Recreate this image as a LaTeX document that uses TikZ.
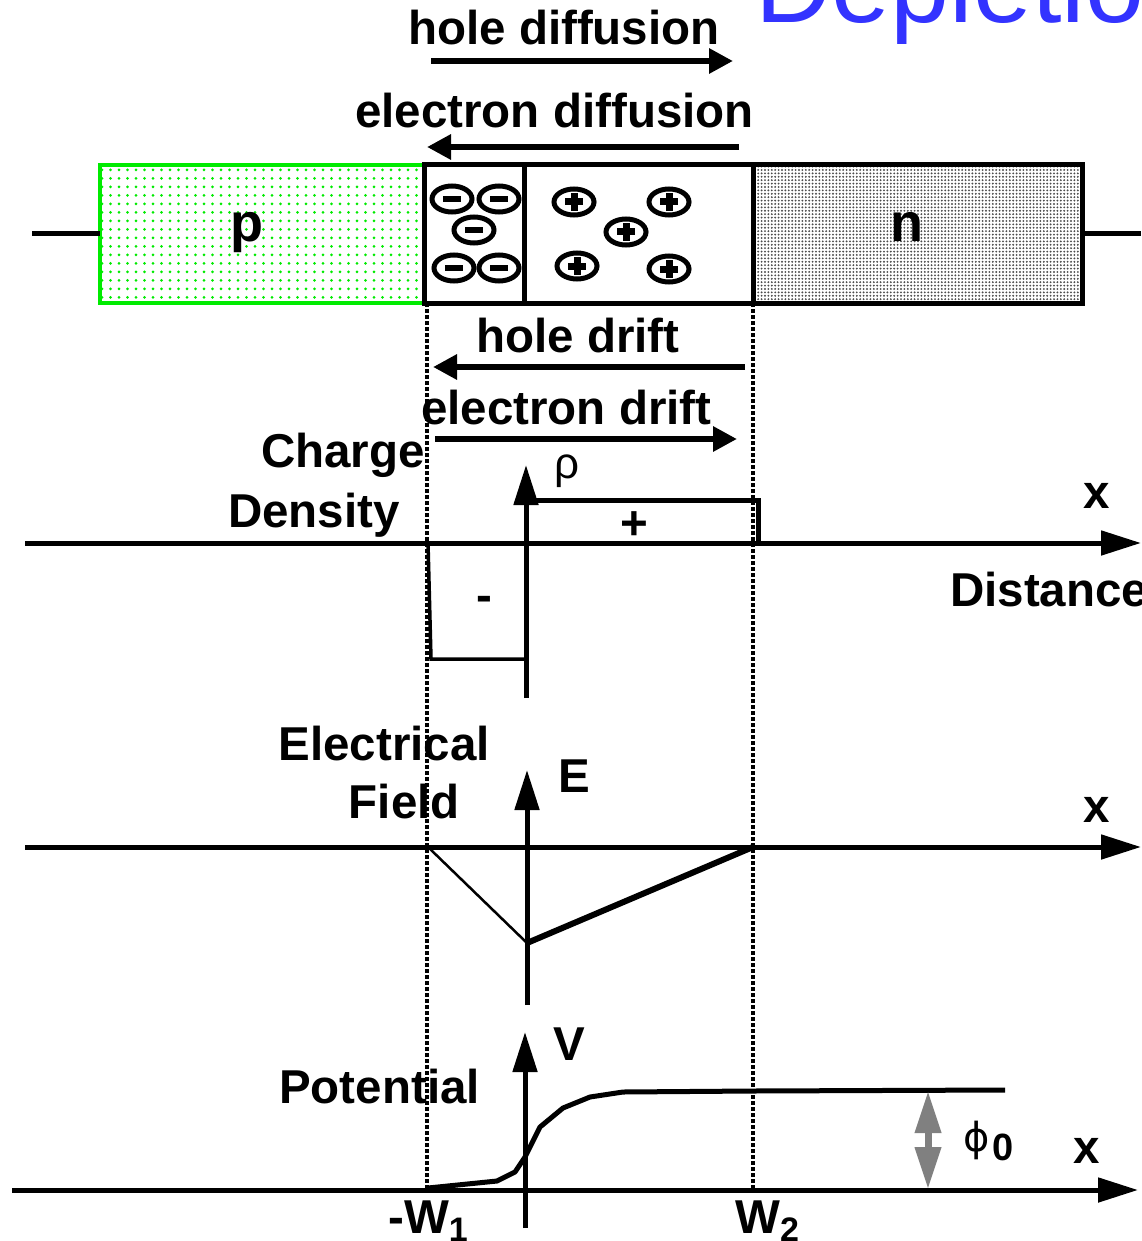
\documentclass[tikz,border=0pt]{standalone}
\usepackage{fontspec}
\setmainfont{Liberation Sans}
\newfontfamily\symfont{DejaVu Sans}
\usetikzlibrary{arrows.meta,patterns.meta,shapes.geometric}
\definecolor{titleblue}{RGB}{51,51,255}
\definecolor{pgreen}{RGB}{0,235,0}
\begin{document}
\begin{tikzpicture}[x=1pt,y=-1pt,
  lbl/.style={font=\fontsize{47.5}{50}\selectfont\bfseries, inner sep=0pt, anchor=base west},
  big/.style={font=\fontsize{54}{56}\selectfont\bfseries, inner sep=0pt, anchor=base},
  greek/.style={font=\fontsize{44}{46}\selectfont, inner sep=0pt},
  axis/.style={line width=5pt, -{Triangle[length=40pt,width=24pt]}},
  flow/.style={line width=6pt, -{Triangle[length=24pt,width=24pt]}},
  guide/.style={line width=4.5pt, dash pattern=on 3.5pt off 2.5pt},
  curve/.style={line width=5pt, line join=round},
  blockline/.style={line width=5pt},
  regionbox/.style={draw, line width=5pt, inner sep=0pt, outer sep=0pt, minimum height=138pt},
  ionshape/.style={ellipse, draw, line width=5pt, minimum width=40pt, minimum height=26pt, inner sep=0pt},
  negion/.style={ionshape, path picture={\fill ([xshift=-9pt,yshift=-3pt]path picture bounding box.center) rectangle ([xshift=9pt,yshift=3pt]path picture bounding box.center);}},
  posion/.style={ionshape, path picture={\fill ([xshift=-9pt,yshift=-3.5pt]path picture bounding box.center) rectangle ([xshift=9pt,yshift=3.5pt]path picture bounding box.center); \fill ([xshift=-3.5pt,yshift=-9pt]path picture bounding box.center) rectangle ([xshift=3.5pt,yshift=9pt]path picture bounding box.center);}}
]
\useasboundingbox (0,0) rectangle (1141,1241);
\clip (0,0) rectangle (1141,1241);
\fill[white] (0,0) rectangle (1141,1241);

% title
\node[font=\fontsize{106}{108}\selectfont, text=titleblue, inner sep=0pt, anchor=base west] (title) at (755,23) {Depletion};

% diffusion arrows
\coordinate (hd1) at (431,61); \coordinate (hd2) at (733,61);
\coordinate (ed1) at (739,147); \coordinate (ed2) at (427,147);
\node[lbl] (hdl) at (408,45) {hole diffusion};
\node[lbl] (edl) at (355,128) {electron diffusion};
\draw[flow] (hd1) -- (hd2);
\draw[flow] (ed1) -- (ed2);

% regions
\node[regionbox, draw=pgreen, line width=4.5pt, minimum width=324pt, pattern={Dots[distance=8.5pt,radius=1.5pt]}, pattern color=pgreen] (pbox) at (262,234) {};
\node[regionbox, minimum width=329pt, pattern={Dots[distance=3.4pt,radius=1.05pt]}, pattern color=black!70] (nbox) at (917.5,234) {};
\node[regionbox, minimum width=329pt, fill=white] (dep) at (588.5,234) {};
\coordinate (divx) at (524,0);
\draw[blockline] (dep.north -| divx) -- (dep.south -| divx);
\coordinate (leadL) at (32,234); \coordinate (leadR) at (1141,234);
\draw[blockline] (leadL) -- (pbox.west);
\draw[blockline] (nbox.east) -- (leadR);
\node[big] (plbl) at (247,242) {p};
\node[big] (nlbl) at (907,242) {n};

% ions
\node[negion] (m1) at (452,199) {};
\node[negion] (m2) at (499,199) {};
\node[negion] (m3) at (474,230) {};
\node[negion] (m4) at (454,268) {};
\node[negion] (m5) at (499,268) {};
\node[posion] (q1) at (574,202) {};
\node[posion] (q2) at (669,202) {};
\node[posion] (q3) at (626,232) {};
\node[posion] (q4) at (577,266) {};
\node[posion] (q5) at (669,269) {};

% drift arrows
\coordinate (hr1) at (745,367); \coordinate (hr2) at (433,367);
\coordinate (er1) at (435,439); \coordinate (er2) at (737,439);
\node[lbl] (hrl) at (476,352) {hole drift};
\node[lbl] (erl) at (421,424) {electron drift};
\draw[flow] (hr1) -- (hr2);
\draw[flow] (er1) -- (er2);

% charge density
\node[lbl, anchor=base east] (chg) at (425,467) {Charge};
\node[lbl, anchor=base east] (den) at (400,527) {Density};
\coordinate (ca1) at (25,543); \coordinate (ca2) at (1141,543);
\draw[axis] (ca1) -- (ca2);
\coordinate (rb) at (526,698); \coordinate (rt) at (526,465);
\draw[axis] (rb) -- (rt);
\node[greek] (rho) at (567,471) {ρ};
\coordinate (pp1) at (526,500); \coordinate (pp2) at (758,500); \coordinate (pp3) at (758,543);
\draw[blockline, line join=miter] (pp1) -- (pp2) -- (pp3);
\coordinate (nn1) at (428,543); \coordinate (nn2) at (431,659); \coordinate (nn3) at (526,659);
\draw[line width=3.5pt] (nn1) -- (nn2) -- (nn3);
\node[lbl, anchor=center] (plus) at (634,526) {+};
\node[lbl, anchor=center] (minus) at (484,604) {-};
\node[lbl, anchor=base] (x1) at (1097,508) {x};
\node[lbl] (dist) at (950,606) {Distance};

% electric field
\node[lbl, anchor=base east] (elec) at (490,760) {Electrical};
\node[lbl, anchor=base east] (fld) at (460,818) {Field};
\coordinate (ea1) at (25,847); \coordinate (ea2) at (1141,847);
\draw[axis] (ea1) -- (ea2);
\coordinate (eb) at (527,1005); \coordinate (et) at (527,770);
\draw[axis] (eb) -- (et);
\node[lbl] (elbl) at (558,792) {E};
\coordinate (f1) at (428,847); \coordinate (f2) at (527,943); \coordinate (f3) at (753,847);
\draw[line width=2.5pt] (f1) -- (f2);
\draw[line width=6pt] (f2) -- (f3);
\node[lbl, anchor=base] (x2) at (1097,822) {x};

% potential
\node[lbl, anchor=base east] (pot) at (480,1103) {Potential};
\coordinate (pa1) at (12,1190); \coordinate (pa2) at (1138,1190);
\draw[axis] (pa1) -- (pa2);
\coordinate (vb) at (525,1228); \coordinate (vt) at (525,1032);
\draw[axis] (vb) -- (vt);
\node[lbl] (vlbl) at (553,1060) {V};
\draw[curve] (428,1188) -- (497,1181) -- (515,1172) -- (525,1157) -- (540,1127) -- (563,1108) -- (590,1097) -- (623,1092) -- (753,1091) -- (1005,1090);
\coordinate (da1) at (928,1091); \coordinate (da2) at (928,1189);
\draw[black!50, line width=7pt, {Triangle[length=42pt,width=25pt]}-{Triangle[length=42pt,width=25pt]}] (da1) -- (da2);
\node[font=\symfont\fontsize{40}{42}\selectfont, inner sep=0pt] (phi) at (977,1140) {ϕ};
\node[font=\fontsize{38}{40}\selectfont\bfseries, inner sep=0pt, anchor=base west] (zero) at (992,1160) {0};
\node[lbl, anchor=base] (x3) at (1087,1163) {x};
\node[lbl] (w1) at (388,1233) {-W\raisebox{-8pt}{\fontsize{34}{36}\selectfont 1}};
\node[lbl] (w2) at (735,1233) {W\raisebox{-8pt}{\fontsize{34}{36}\selectfont 2}};

% guides
\coordinate (gL1) at (427,303); \coordinate (gL2) at (427,1190);
\coordinate (gR1) at (753,303); \coordinate (gR2) at (753,1190);
\draw[guide] (gL1) -- (gL2);
\draw[guide] (gR1) -- (gR2);
\end{tikzpicture}
\end{document}
